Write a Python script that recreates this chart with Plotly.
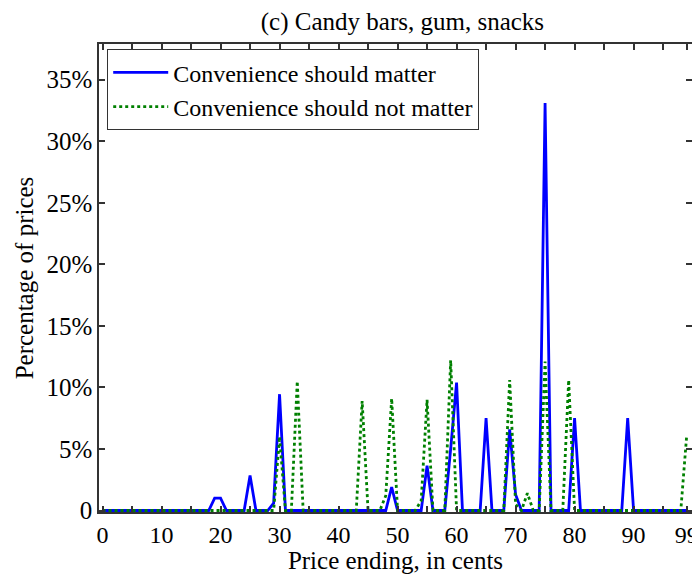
import plotly.graph_objects as go

# Price endings (cents) and percentage of prices with that ending
cents = list(range(100))

should_matter_cents = [19, 20, 25, 29, 30, 49, 55, 59, 60, 65, 69, 70, 75, 80, 89]
should_matter_vals = [1.0, 1.0, 2.85, 0.6, 9.45, 1.9, 3.65, 5.0, 10.4, 7.5, 6.6, 1.3, 33.1, 7.5, 7.5]

not_matter_cents = [30, 33, 44, 48, 49, 54, 55, 59, 69, 70, 72, 75, 79, 99]
not_matter_vals = [6.0, 10.5, 8.9, 1.2, 9.1, 0.8, 9.0, 12.2, 10.6, 0.5, 1.4, 12.1, 10.6, 6.1]

x_tickvals = [0, 5, 10, 15, 20, 25, 30, 35, 40, 45, 50, 55, 60, 65, 70, 75, 80, 85, 90, 95, 99]
x_ticktext = ["0", "", "10", "", "20", "", "30", "", "40", "", "50", "", "60", "", "70", "", "80", "", "90", "", "99"]
y_tickvals = [0, 5, 10, 15, 20, 25, 30, 35]
y_ticktext = ["0", "5%", "10%", "15%", "20%", "25%", "30%", "35%"]


def full_series(idx, vals):
    d = dict(zip(idx, vals))
    return [d.get(c, 0.0) for c in cents]


blue = full_series(should_matter_cents, should_matter_vals)
green = full_series(not_matter_cents, not_matter_vals)

FONT = "Liberation Serif, Times New Roman, serif"

fig = go.Figure()
fig.add_trace(go.Scatter(x=cents, y=blue, mode="lines", name="Convenience should matter",
                         line=dict(color="#0000FF", width=2.8)))
fig.add_trace(go.Scatter(x=cents, y=green, mode="lines", name="Convenience should not matter",
                         line=dict(color="#008000", width=2.8, dash="dot")))

axis_common = dict(showline=True, linecolor="#333333", linewidth=1.5, mirror="ticks",
                   ticks="inside", ticklen=6, tickwidth=1.5, tickcolor="#333333",
                   showgrid=False, zeroline=False, automargin=False)

# the page adds an 8px body margin, so the figure is 8px smaller and margins shifted
fig.update_layout(
    width=692, height=566,
    margin=dict(l=91, r=8, t=36, b=62),
    paper_bgcolor="white", plot_bgcolor="white",
    font=dict(family=FONT, size=24, color="black"),
    title=dict(text="(c) Candy bars, gum, snacks", x=0.57, xanchor="center",
               y=0.977, yanchor="middle", automargin=False, font=dict(family=FONT, size=25)),
    xaxis=dict(range=[-0.6, 99.9], tickmode="array", tickvals=x_tickvals, ticktext=x_ticktext,
               tickfont=dict(family=FONT, size=24, color="black"),
               title=dict(text="Price ending, in cents", standoff=0, font=dict(family=FONT, size=25)),
               **axis_common),
    yaxis=dict(range=[-0.12, 37.9], tickmode="array", tickvals=y_tickvals, ticktext=y_ticktext,
               tickfont=dict(family=FONT, size=25, color="black"),
               title=dict(text="Percentage of prices", standoff=6, font=dict(family=FONT, size=25)),
               **axis_common),
    legend=dict(x=0.0135, y=0.989, xanchor="left", yanchor="top",
                bgcolor="white", bordercolor="#333333", borderwidth=1.2,
                itemwidth=55, font=dict(family=FONT, size=24)),
    showlegend=True,
)

fig.write_html("out.html")
